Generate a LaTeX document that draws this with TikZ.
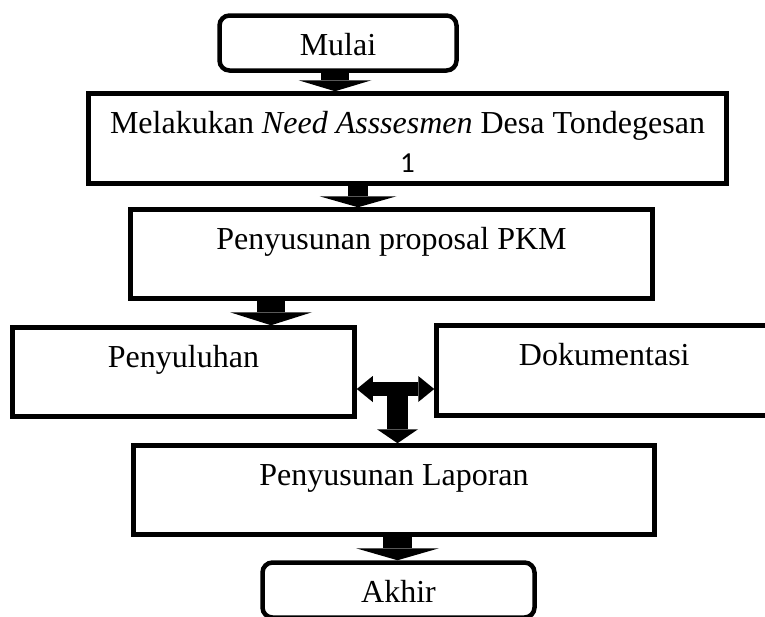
\documentclass[tikz,border=0pt]{standalone}
\usepackage{fontspec}
\setmainfont{Liberation Serif}
\newfontfamily\carlito{Carlito}
\usetikzlibrary{arrows.meta}

\begin{document}
\begin{tikzpicture}[x=1pt, y=-1pt,
  proc/.style = {draw, line width=4.5pt, inner sep=0pt, text height=40pt, font=\fontsize{32}{38}\selectfont},
  term/.style = {proc, rounded corners=10pt, text depth=15pt},
  fat/.style n args = {3}{line width=#1, -{Triangle[width=#2, length=#3, line width=0pt]}}]
\useasboundingbox (0,0) rectangle (765,616);
\node[term, minimum width=237pt] (1) at (338,43) {Mulai};
\node[proc, minimum width=638pt, text depth=50pt] (2) at (407.5,138.5) {\begin{tabular}[t]{@{}c@{}}Melakukan \textit{Need Asssesmen} Desa Tondegesan\\[1pt] {\carlito\fontsize{29}{34}\selectfont 1}\end{tabular}};
\node[proc, minimum width=522pt, text depth=49pt] (3) at (391.5,254) {Penyusunan proposal PKM};
\node[proc, minimum width=342pt, text depth=49pt] (4) at (183.5,372) {Penyuluhan};
\node[proc, minimum width=335.5pt, text depth=50pt] (5) at (604.25,370.5) {Dokumentasi};
\node[proc, minimum width=521pt, text depth=49pt] (6) at (394,490) {Penyusunan Laporan};
\node[term, minimum width=272pt] (7) at (398.5,590) {Akhir};
\coordinate (tee) at (397.5,389);
\draw[fat={28pt}{73pt}{11pt}] ([xshift=-3pt]1.south) -- ([xshift=-3pt]1.south |- 2.north);
\draw[fat={20pt}{77pt}{11pt}] ([xshift=-49.5pt]2.south) -- ([xshift=-49.5pt]2.south |- 3.north);
\draw[fat={28pt}{82pt}{13pt}] ([xshift=-120.5pt]3.south) -- ([xshift=-120.5pt]3.south |- 4.north);
\draw[line width=14pt, {Triangle[width=26pt, length=16pt, line width=0pt]}-{Triangle[width=26pt, length=16pt, line width=0pt]}] (4.east |- tee) -- (5.west |- tee);
\draw[fat={21pt}{41pt}{14pt}] (tee) -- (tee |- 6.north);
\draw[fat={29pt}{83pt}{12pt}] ([xshift=3.5pt]6.south) -- ([xshift=3.5pt]6.south |- 7.north);
\end{tikzpicture}
\end{document}
